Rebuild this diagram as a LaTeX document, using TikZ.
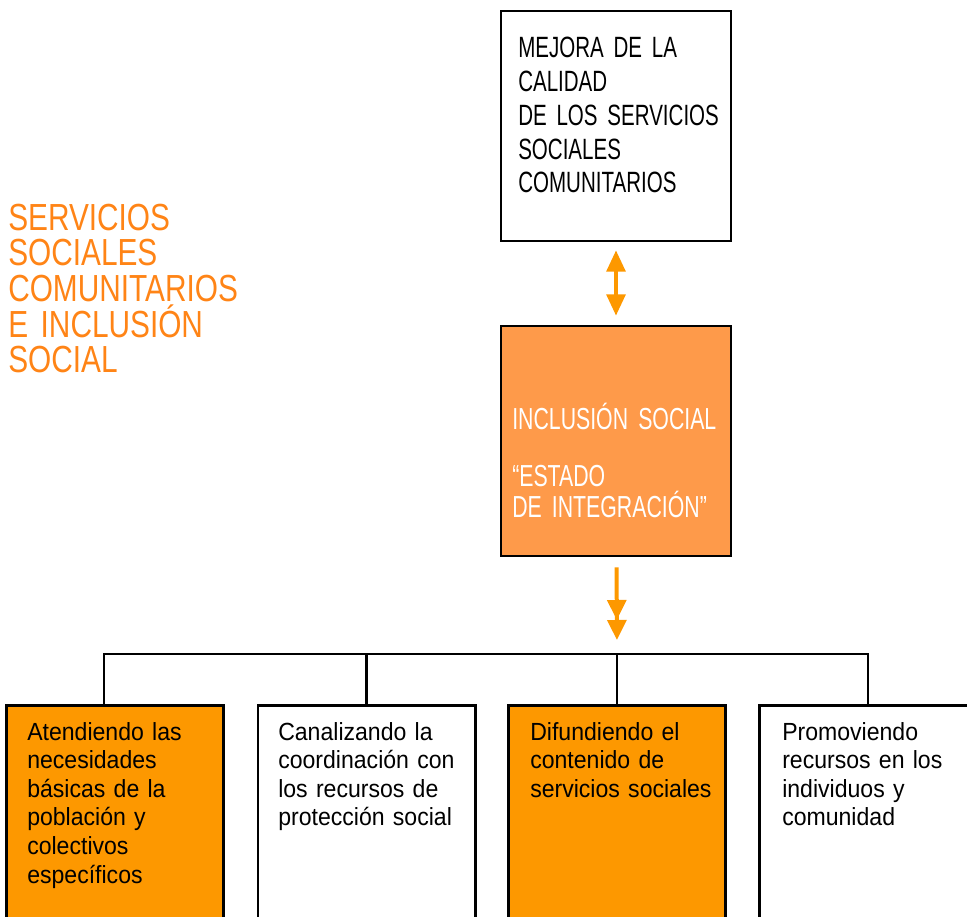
\documentclass[tikz,border=0pt]{standalone}
\usepackage{fontspec}
\setmainfont{Liberation Sans}[FakeStretch=0.93]
\newfontfamily\narrowcaps{Liberation Sans}[FakeStretch=0.7]
\newfontfamily\titlecaps{Liberation Sans}[FakeStretch=0.79]
\usetikzlibrary{arrows.meta}
\definecolor{paleorange}{RGB}{254,154,74}
\definecolor{fullorange}{RGB}{253,152,0}
\definecolor{headorange}{RGB}{255,132,22}
\tikzset{
  box/.style={draw=black, line width=2pt, minimum width=172.5pt, minimum height=172.5pt, inner sep=0pt},
  lowbox/.style={box, minimum width=163pt, minimum height=176pt},
  txt/.style={anchor=base west, inner sep=0pt, align=left, text width=250pt},
  capstxt/.style={txt, font={\narrowcaps\fontsize{22pt}{25.3pt}\selectfont\fontdimen2\font=0.13em}},
  smalltxt/.style={txt, font={\fontsize{18.6pt}{21.45pt}\selectfont}},
  link/.style={line width=2.2pt},
  twoway/.style={draw=fullorange, line width=3pt, {Triangle[width=14pt,length=16pt]}-{Triangle[width=14pt,length=16pt]}},
  oneway/.style={draw=fullorange, line width=3pt, -{Triangle[width=14pt,length=15pt]Triangle[width=14pt,length=15pt]}}
}
\begin{document}
\begin{tikzpicture}[x=0.75pt,y=-0.75pt]
\useasboundingbox (0,0) rectangle (967,917);
\clip (0,0) rectangle (967,917);

\node[txt, text=headorange, font={\titlecaps\fontsize{28.3pt}{26.8pt}\selectfont\fontdimen2\font=0.15em}] (title) at (8,230)
  {SERVICIOS\\SOCIALES\\COMUNITARIOS\\E INCLUSIÓN\\SOCIAL};

\node[box] (mejora) at (616,126){};
\node[capstxt] (mejoratxt) at (518,58)
  {MEJORA DE LA\\CALIDAD\\DE LOS SERVICIOS\\SOCIALES\\COMUNITARIOS};

\node[box, fill=paleorange] (inclusion) at (616,441){};
\node[capstxt, text=white, font={\narrowcaps\fontsize{22.8pt}{23.25pt}\selectfont\fontdimen2\font=0.13em}] (inclusiontxt) at (512,429)
  {INCLUSIÓN SOCIAL\\[20pt]“ESTADO\\DE INTEGRACIÓN”};

\draw[twoway, shorten <=6pt, shorten >=6.75pt](mejora) -- (inclusion);

\coordinate (bus) at (617,654);
\draw[oneway, shorten <=7.5pt, shorten >=10.5pt](inclusion) -- (bus);

\node[lowbox, fill=fullorange] (atender) at (115,822.5){};
\node[lowbox] (canalizar) at (366.5,822.5){};
\node[lowbox, fill=fullorange] (difundir) at (617,822.5){};
\node[lowbox] (promover) at (868,822.5){};

\draw[link]([xshift=-8.25pt]atender.north) |- (bus) -| (promover.north);
\draw[link](canalizar.north) -- (canalizar.north |- bus);
\draw[link](difundir.north) -- (bus);

\node[smalltxt] (atendertxt) at (27,740)
  {Atendiendo las\\necesidades\\básicas de la\\población y\\colectivos\\específicos};
\node[smalltxt] (canalizartxt) at (278,740)
  {Canalizando la\\coordinación con\\los recursos de\\protección social};
\node[smalltxt] (difundirtxt) at (530,740)
  {Difundiendo el\\contenido de\\servicios sociales};
\node[smalltxt] (promovertxt) at (782,740)
  {Promoviendo\\recursos en los\\individuos y\\comunidad};

\end{tikzpicture}
\end{document}
